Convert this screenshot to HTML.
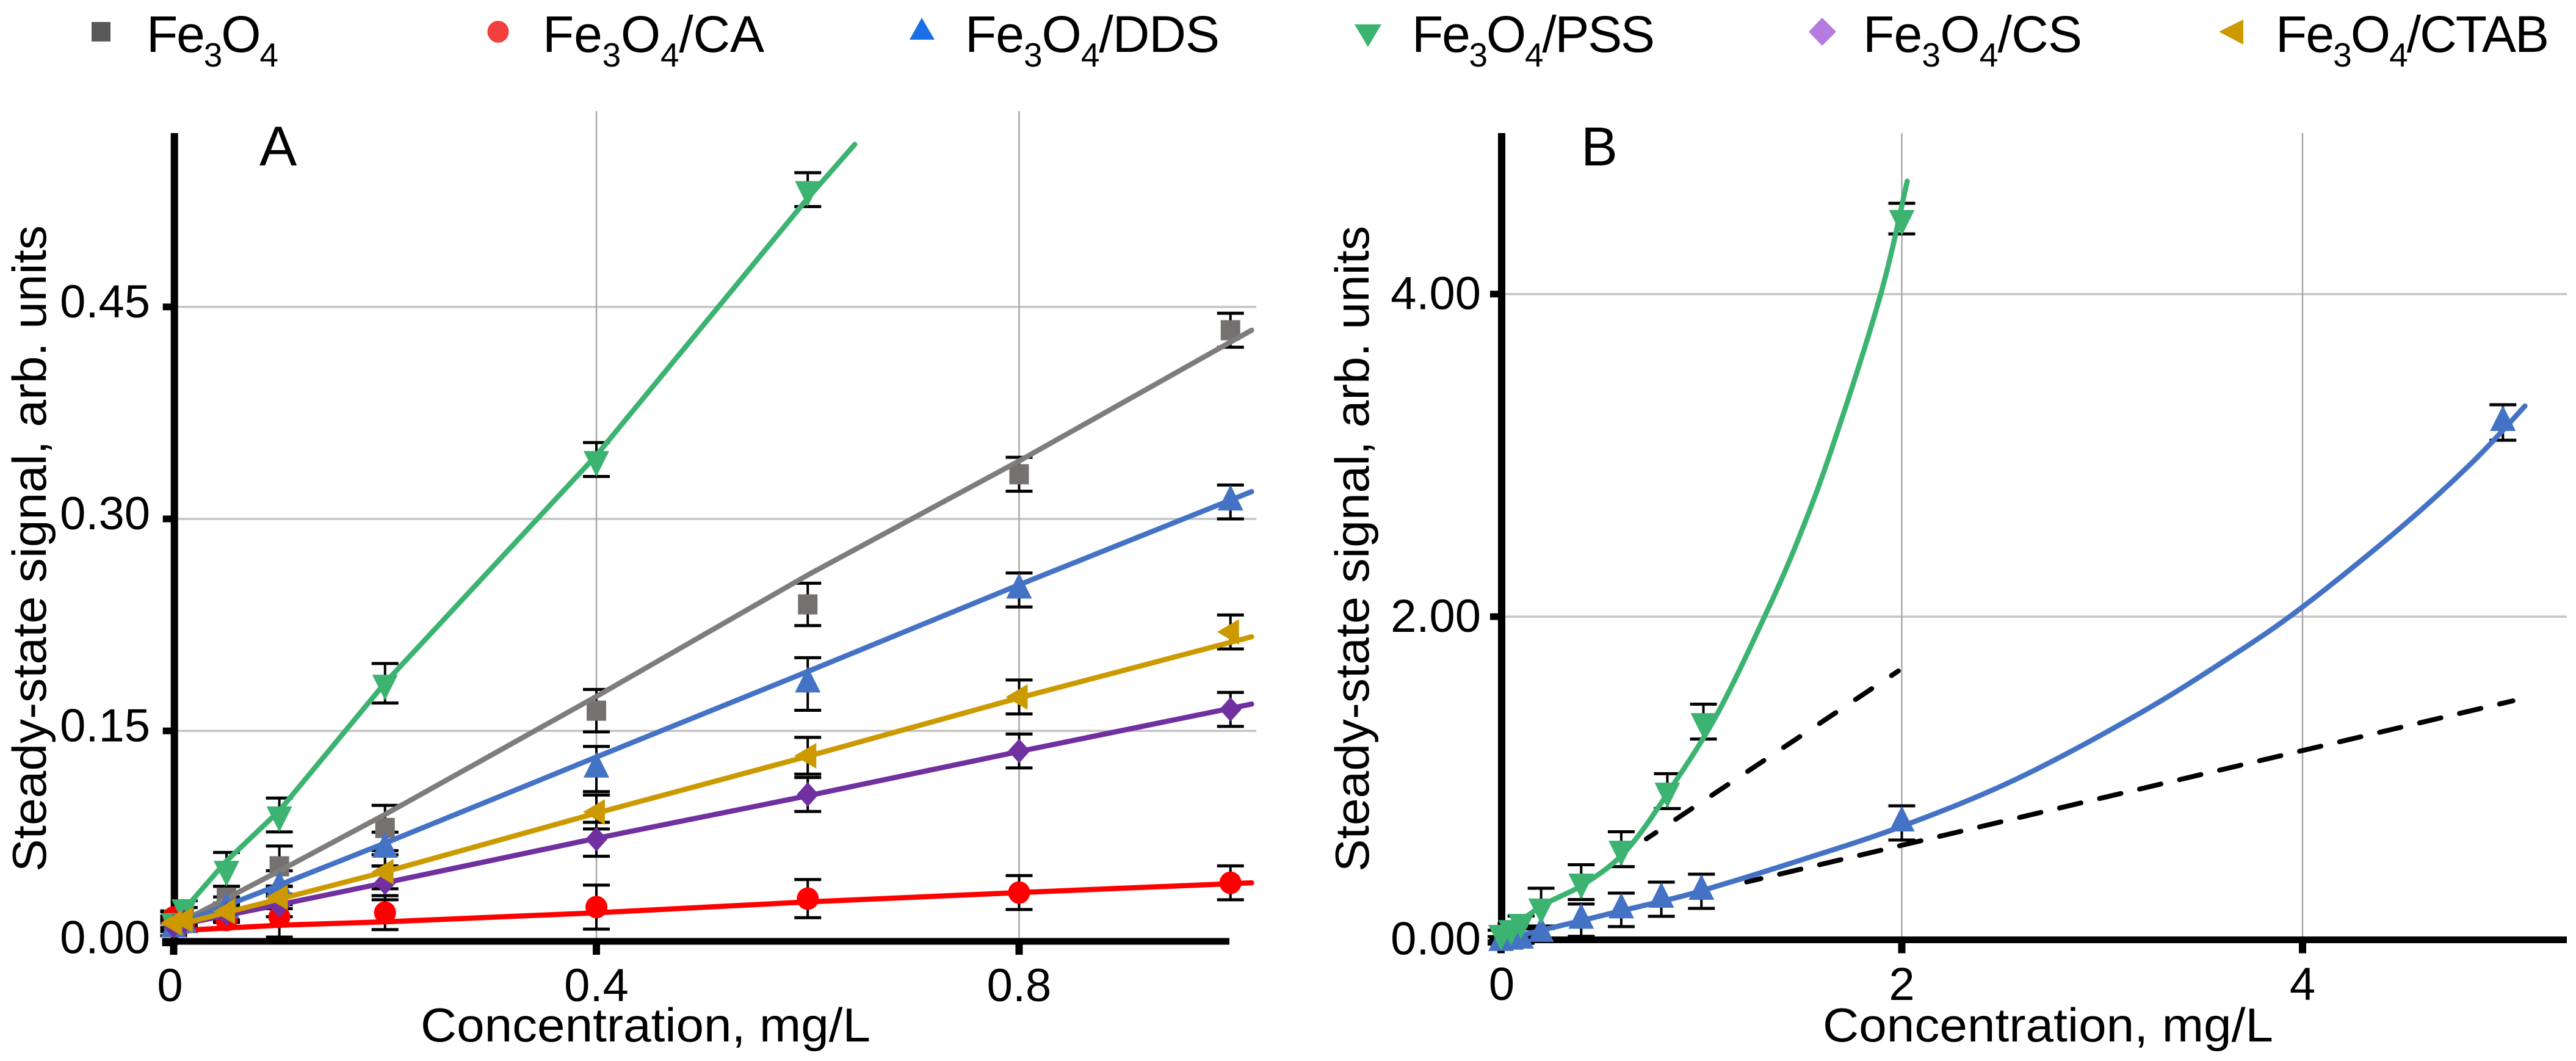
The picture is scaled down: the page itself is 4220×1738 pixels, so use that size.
<!DOCTYPE html>
<html lang="en">
<head>
<meta charset="utf-8">
<title>Steady-state signal vs concentration</title>
<style>
html,body{margin:0;padding:0;background:#fff;}
svg{display:block;}
text{font-family:"Liberation Sans",sans-serif;fill:#000;}
</style>
</head>
<body>
<svg id="chart" xmlns="http://www.w3.org/2000/svg" width="4220" height="1738" viewBox="0 0 4220 1738">
  <rect x="0" y="0" width="4220" height="1738" fill="#fff"/>
  <g id="panelA"></g>
  <g id="panelB"></g>

  <text x="425" y="271" font-size="92">A</text>
  <text x="2590" y="271" font-size="90">B</text>

  <text x="689" y="1706" font-size="78" textLength="737" lengthAdjust="spacingAndGlyphs">Concentration, mg/L</text>
  <text x="2986" y="1706" font-size="78" textLength="738" lengthAdjust="spacingAndGlyphs">Concentration, mg/L</text>
  <text transform="translate(75 1428) rotate(-90)" font-size="78" textLength="1059" lengthAdjust="spacingAndGlyphs">Steady-state signal, arb. units</text>
  <text transform="translate(2242 1428) rotate(-90)" font-size="78" textLength="1058" lengthAdjust="spacingAndGlyphs">Steady-state signal, arb. units</text>

  <g>
    <rect x="150" y="36" width="31" height="32" fill="#595959"/>
    <text x="240" y="85" font-size="84" textLength="216">Fe<tspan font-size="55" dy="24">3</tspan><tspan dy="-24">O</tspan><tspan font-size="55" dy="24">4</tspan></text>

    <ellipse cx="816" cy="52" rx="17.5" ry="18" fill="#f24040"/>
    <text x="889" y="85" font-size="84" textLength="363">Fe<tspan font-size="55" dy="24">3</tspan><tspan dy="-24">O</tspan><tspan font-size="55" dy="24">4</tspan><tspan dy="-24">/CA</tspan></text>

    <polygon points="1510,29 1531,65 1490,65" fill="#1a6fe6"/>
    <text x="1581" y="85" font-size="84" textLength="417">Fe<tspan font-size="55" dy="24">3</tspan><tspan dy="-24">O</tspan><tspan font-size="55" dy="24">4</tspan><tspan dy="-24">/DDS</tspan></text>

    <polygon points="2219,40 2263,40 2241,77" fill="#3cb371"/>
    <text x="2313" y="85" font-size="84" textLength="398">Fe<tspan font-size="55" dy="24">3</tspan><tspan dy="-24">O</tspan><tspan font-size="55" dy="24">4</tspan><tspan dy="-24">/PSS</tspan></text>

    <polygon points="2985,29 3008,52 2985,75 2963,52" fill="#b57be0"/>
    <text x="3052" y="85" font-size="84" textLength="359">Fe<tspan font-size="55" dy="24">3</tspan><tspan dy="-24">O</tspan><tspan font-size="55" dy="24">4</tspan><tspan dy="-24">/CS</tspan></text>

    <polygon points="3635,52 3675,32 3675,73" fill="#cc9900"/>
    <text x="3728" y="85" font-size="84" textLength="448">Fe<tspan font-size="55" dy="24">3</tspan><tspan dy="-24">O</tspan><tspan font-size="55" dy="24">4</tspan><tspan dy="-24">/CTAB</tspan></text>
  </g>
</svg>

<script>
// ---------- Panel A data ----------
const concA = [0, 0.01, 0.05, 0.1, 0.2, 0.4, 0.6, 0.8, 1.0];
const concAPss = [0, 0.01, 0.05, 0.1, 0.2, 0.4, 0.6];

const fe3o4A    = [0.0166, 0.019, 0.032, 0.0542, 0.0813, 0.1643, 0.2395, 0.3316, 0.4335];
const fe3o4ErrA = [0.006, 0.006, 0.008, 0.0143, 0.016, 0.015, 0.015, 0.012, 0.012];
const caA       = [0.018, 0.014, 0.0162, 0.0184, 0.0214, 0.0253, 0.0313, 0.0356, 0.0425];
const caErrA    = [0.004, 0.004, 0.006, 0.0143, 0.012, 0.0156, 0.0135, 0.012, 0.012];
const ddsA      = [0.010, 0.013, 0.0235, 0.039, 0.0663, 0.123, 0.1832, 0.2497, 0.312];
const ddsErrA   = [0.005, 0.005, 0.009, 0.012, 0.012, 0.016, 0.0186, 0.012, 0.012];
const pssA      = [0.015, 0.0248, 0.052, 0.0905, 0.1837, 0.342, 0.533];
const pssErrA   = [0.004, 0.005, 0.012, 0.012, 0.014, 0.012, 0.012];
const csA       = [0.012, 0.015, 0.0205, 0.0265, 0.0425, 0.0733, 0.105, 0.1358, 0.1652];
const csErrA    = [0.004, 0.004, 0.006, 0.008, 0.012, 0.012, 0.012, 0.012, 0.012];
const ctabA     = [0.014, 0.0162, 0.0222, 0.0322, 0.0503, 0.0926, 0.1324, 0.174, 0.22];
const ctabErrA  = [0.004, 0.004, 0.006, 0.008, 0.012, 0.012, 0.013, 0.012, 0.012];

const fitConcA      = [0, 0.1, 0.2, 0.4, 0.6, 0.8, 1.02];
const fitFe3o4A     = [0.012, 0.0509, 0.0909, 0.1744, 0.2603, 0.341, 0.4335];
const fitCaA        = [0.0085, 0.0125, 0.0149, 0.0213, 0.029, 0.0356, 0.0425];
const fitDdsA       = [0.012, 0.041, 0.0706, 0.1315, 0.192, 0.2534, 0.3193];
const fitCsA        = [0.012, 0.027, 0.0425, 0.074, 0.1041, 0.1354, 0.169];
const fitCtabA      = [0.012, 0.031, 0.0503, 0.0918, 0.132, 0.1734, 0.2166];
const fitConcAPss   = [0, 0.05, 0.1, 0.2, 0.4, 0.6, 0.6445];
const fitPssA       = [0.015, 0.058, 0.0935, 0.184, 0.345, 0.527, 0.565];

const xTicksA = [0, 0.4, 0.8];
const xTickLabelsA = ['0', '0.4', '0.8'];
const yTicksA = [0, 0.15, 0.30, 0.45];
const yTickLabelsA = ['0.00', '0.15', '0.30', '0.45'];

// ---------- Panel B data ----------
const concBPss = [0, 0.05, 0.1, 0.2, 0.4, 0.6, 0.83, 1.01, 2.0];
const pssB     = [0.036, 0.066, 0.104, 0.199, 0.354, 0.558, 0.918, 1.349, 4.468];
const pssErrB  = [0.02, 0.03, 0.04, 0.117, 0.108, 0.108, 0.108, 0.108, 0.095];
const concBDds = [0, 0.05, 0.1, 0.2, 0.4, 0.6, 0.8, 1.0, 2.0, 5.0];
const ddsB     = [-0.02, -0.012, -0.005, 0.036, 0.118, 0.182, 0.248, 0.297, 0.721, 3.204];
const ddsErrB  = [0.01, 0.01, 0.02, 0.03, 0.1, 0.104, 0.106, 0.106, 0.106, 0.11];

const fitConcBPss = [0, 0.2, 0.42, 0.632, 0.866, 1.087, 1.33, 1.49, 1.653, 1.895, 2.027];
const fitPssB     = [0.02, 0.204, 0.346, 0.56, 0.97, 1.415, 2.04, 2.5, 3.05, 4.0, 4.70];
const fitConcBDds = [0, 0.2, 0.4, 0.6, 0.8, 1.0, 1.495, 2.0, 2.562, 3.17, 3.635, 4.0, 4.488, 4.85, 5.11];
const fitDdsB     = [-0.005, 0.055, 0.115, 0.176, 0.235, 0.30, 0.49, 0.70, 0.987, 1.388, 1.746, 2.06, 2.55, 2.96, 3.306];

const dashConcPss = [0.725, 1.983];
const dashPss     = [0.622, 1.663];
const dashConcDds = [1.226, 5.05];
const dashDds     = [0.355, 1.478];

const xTicksB = [0, 2, 4];
const xTickLabelsB = ['0', '2', '4'];
const yTicksB = [0, 2, 4];
const yTickLabelsB = ['0.00', '2.00', '4.00'];

// ---------- Axis functions ----------
function xA(v) { return 284.5 + v * 1731.25; }
function yA(v) { return 1544.5 - v * 2315; }
function xB(v) { return 2459 + v * 328.25; }
function yB(v) { return 1538.5 - v * 264.2; }

const SVGNS = 'http://www.w3.org/2000/svg';
const COLORS = { gray:'#767171', grayLine:'#7f7c7c', red:'#ff0000', blue:'#4472c4', green:'#3cb371', purple:'#7030a0', gold:'#cc9900' };

function mk(tag, attrs, parent) {
  const el = document.createElementNS(SVGNS, tag);
  for (const k in attrs) el.setAttribute(k, attrs[k]);
  parent.appendChild(el);
  return el;
}

function marker(kind, cx, cy, color, parent) {
  let el;
  if (kind === 'square') {
    el = mk('rect', { x: cx - 16, y: cy - 16.5, width: 32, height: 33, fill: color }, parent);
  } else if (kind === 'circle') {
    el = mk('ellipse', { cx: cx, cy: cy, rx: 18, ry: 18.5, fill: color }, parent);
  } else if (kind === 'up') {
    el = mk('polygon', { points: [cx, cy - 28, cx + 21, cy + 14, cx - 21, cy + 14].join(' '), fill: color }, parent);
  } else if (kind === 'down') {
    el = mk('polygon', { points: [cx - 21, cy - 14, cx + 21, cy - 14, cx, cy + 28].join(' '), fill: color }, parent);
  } else if (kind === 'diamond') {
    el = mk('polygon', { points: [cx, cy - 20, cx + 18, cy, cx, cy + 20, cx - 18, cy].join(' '), fill: color }, parent);
  } else {
    el = mk('polygon', { points: [cx - 22, cy, cx + 14, cy - 21, cx + 14, cy + 21].join(' '), fill: color }, parent);
  }
  return el;
}

function drawErrors(name, xs, ys, errs, xf, yf, parent) {
  xs.forEach(function (xv, i) {
    const cx = xf(xv), top = yf(ys[i] + errs[i]), bot = yf(ys[i] - errs[i]);
    const stem = mk('line', { x1: cx, x2: cx, y1: top, y2: bot, stroke: '#000', 'stroke-width': 4 }, parent);
    
    
    const capT = mk('line', { x1: cx - 22, x2: cx + 22, y1: top, y2: top, stroke: '#000', 'stroke-width': 5 }, parent);
    
    
    const capB = mk('line', { x1: cx - 22, x2: cx + 22, y1: bot, y2: bot, stroke: '#000', 'stroke-width': 5 }, parent);
    
    
  });
}

function drawLine(name, xs, ys, xf, yf, color, parent) {
  const pts = xs.map(function (xv, i) { return xf(xv).toFixed(1) + ',' + yf(ys[i]).toFixed(1); }).join(' ');
  const line = mk('polyline', { points: pts, fill: 'none', stroke: color, 'stroke-width': 8.5, 'stroke-linecap': 'round', 'stroke-linejoin': 'round' }, parent);
  
  
}

function drawDashed(name, xs, ys, xf, yf, dash, offset, parent) {
  const pts = xs.map(function (xv, i) { return xf(xv).toFixed(1) + ',' + yf(ys[i]).toFixed(1); }).join(' ');
  const line = mk('polyline', { points: pts, fill: 'none', stroke: '#000', 'stroke-width': 8, 'stroke-linecap': 'round', 'stroke-dasharray': dash, 'stroke-dashoffset': offset }, parent);
  
  
}

function drawCurve(name, xs, ys, xf, yf, color, parent) {
  const p = xs.map(function (xv, i) { return [xf(xv), yf(ys[i])]; });
  let d = 'M' + p[0][0].toFixed(1) + ' ' + p[0][1].toFixed(1);
  for (let i = 0; i < p.length - 1; i++) {
    const a = p[Math.max(i - 1, 0)], b = p[i], c = p[i + 1], e = p[Math.min(i + 2, p.length - 1)];
    const c1x = b[0] + (c[0] - a[0]) / 6, c1y = b[1] + (c[1] - a[1]) / 6;
    const c2x = c[0] - (e[0] - b[0]) / 6, c2y = c[1] - (e[1] - b[1]) / 6;
    d += ' C' + c1x.toFixed(1) + ' ' + c1y.toFixed(1) + ' ' + c2x.toFixed(1) + ' ' + c2y.toFixed(1) + ' ' + c[0].toFixed(1) + ' ' + c[1].toFixed(1);
  }
  const curve = mk('path', { d: d, fill: 'none', stroke: color, 'stroke-width': 8.5, 'stroke-linecap': 'round', 'stroke-linejoin': 'round' }, parent);
  
  
}

function drawMarkers(name, kind, xs, ys, xf, yf, color, parent) {
  xs.forEach(function (xv, i) {
    const m = marker(kind, xf(xv), yf(ys[i]), color, parent);
    
    
  });
}

function drawFrame(cfg, parent) {
  cfg.yTicks.forEach(function (v, i) {
    if (v !== 0) {
      const g = mk('line', { x1: cfg.yAxisX, x2: cfg.gridRight, y1: cfg.yf(v), y2: cfg.yf(v), stroke: '#c4c4c4', 'stroke-width': 3.5 }, parent);
      
      
      const t = mk('rect', { x: cfg.yAxisX - 19, y: cfg.yf(v) - 5.5, width: 20, height: 11, fill: '#000' }, parent);
      
      
    }
    const lab = mk('text', { x: cfg.yLabelRight, y: cfg.yf(v) + cfg.yLabelDy, 'font-size': 76, 'text-anchor': 'end' }, parent);
    lab.textContent = cfg.yLabels[i];
    
    
  });
  cfg.xTicks.forEach(function (v, i) {
    if (v !== 0) {
      const g = mk('line', { x1: cfg.xf(v), x2: cfg.xf(v), y1: cfg.gridTop, y2: cfg.xAxisY, stroke: '#a8a8a8', 'stroke-width': 2.5 }, parent);
      
      
    }
    const t = mk('rect', { x: cfg.xf(v) - 6, y: cfg.xAxisY, width: 12, height: 22, fill: '#000' }, parent);
    
    
    const shift = v === 0 ? cfg.zeroShift : 0;
    const lab = mk('text', { x: cfg.xf(v) + shift, y: cfg.xLabelY, 'font-size': 76, 'text-anchor': 'middle' }, parent);
    lab.textContent = cfg.xLabels[i];
    
    
  });
  const ya = mk('rect', { x: cfg.yAxisX - 6, y: 218, width: 12, height: cfg.xAxisY - 218 + 6, fill: '#000' }, parent);
  
  
  const xa = mk('rect', { x: cfg.yAxisX - 20, y: cfg.xAxisY - 5.5, width: cfg.xAxisRight - cfg.yAxisX + 20, height: 11, fill: '#000' }, parent);
  
  
  const zt = mk('rect', { x: cfg.yAxisX - 20, y: cfg.yf(0) - 5.5, width: 20, height: 11, fill: '#000' }, parent);
  
  
}

// ---------- Panel A ----------
const pa = document.getElementById('panelA');
drawFrame({ xf: xA, yf: yA, xTicks: xTicksA, xLabels: xTickLabelsA, yTicks: yTicksA, yLabels: yTickLabelsA,
  yAxisX: 285.7, xAxisY: 1542, xAxisRight: 2014, gridRight: 2058, gridTop: 182, yLabelRight: 246, yLabelDy: 17, xLabelY: 1640, zeroShift: -6 }, pa);

drawErrors('fe3o4', concA, fe3o4A, fe3o4ErrA, xA, yA, pa);
drawErrors('fe3o4-ca', concA, caA, caErrA, xA, yA, pa);
drawErrors('fe3o4-dds', concA, ddsA, ddsErrA, xA, yA, pa);
drawErrors('fe3o4-pss', concAPss, pssA, pssErrA, xA, yA, pa);
drawErrors('fe3o4-cs', concA, csA, csErrA, xA, yA, pa);
drawErrors('fe3o4-ctab', concA, ctabA, ctabErrA, xA, yA, pa);

drawMarkers('fe3o4', 'square', concA, fe3o4A, xA, yA, COLORS.gray, pa);
drawLine('fe3o4-fit-line', fitConcA, fitFe3o4A, xA, yA, COLORS.grayLine, pa);
drawMarkers('fe3o4-ca', 'circle', concA, caA, xA, yA, COLORS.red, pa);
drawLine('fe3o4-ca-fit-line', fitConcA, fitCaA, xA, yA, COLORS.red, pa);
drawMarkers('fe3o4-dds', 'up', concA, ddsA, xA, yA, COLORS.blue, pa);
drawLine('fe3o4-dds-fit-line', fitConcA, fitDdsA, xA, yA, COLORS.blue, pa);
drawMarkers('fe3o4-pss', 'down', concAPss, pssA, xA, yA, COLORS.green, pa);
drawLine('fe3o4-pss-fit-line', fitConcAPss, fitPssA, xA, yA, COLORS.green, pa);
drawMarkers('fe3o4-cs', 'diamond', concA, csA, xA, yA, COLORS.purple, pa);
drawLine('fe3o4-cs-fit-line', fitConcA, fitCsA, xA, yA, COLORS.purple, pa);
drawMarkers('fe3o4-ctab', 'left', concA, ctabA, xA, yA, COLORS.gold, pa);
drawLine('fe3o4-ctab-fit-line', fitConcA, fitCtabA, xA, yA, COLORS.gold, pa);

// ---------- Panel B ----------
const pb = document.getElementById('panelB');
drawFrame({ xf: xB, yf: yB, xTicks: xTicksB, xLabels: xTickLabelsB, yTicks: yTicksB, yLabels: yTickLabelsB,
  yAxisX: 2460, xAxisY: 1539.5, xAxisRight: 4205, gridRight: 4205, gridTop: 218, yLabelRight: 2426, yLabelDy: 25, xLabelY: 1638, zeroShift: 1 }, pb);

drawDashed('pss-linear-dashed-line', dashConcPss, dashPss, xB, yB, '32 38.8', 13, pb);
drawDashed('dds-linear-dashed-line', dashConcDds, dashDds, xB, yB, '36 31.33', 12, pb);

drawErrors('fe3o4-dds', concBDds, ddsB, ddsErrB, xB, yB, pb);
drawErrors('fe3o4-pss', concBPss, pssB, pssErrB, xB, yB, pb);

drawMarkers('fe3o4-dds', 'up', concBDds, ddsB, xB, yB, COLORS.blue, pb);
drawCurve('fe3o4-dds-fit-curve', fitConcBDds, fitDdsB, xB, yB, COLORS.blue, pb);
drawMarkers('fe3o4-pss', 'down', concBPss, pssB, xB, yB, COLORS.green, pb);
drawCurve('fe3o4-pss-fit-curve', fitConcBPss, fitPssB, xB, yB, COLORS.green, pb);
</script>
</body>
</html>
